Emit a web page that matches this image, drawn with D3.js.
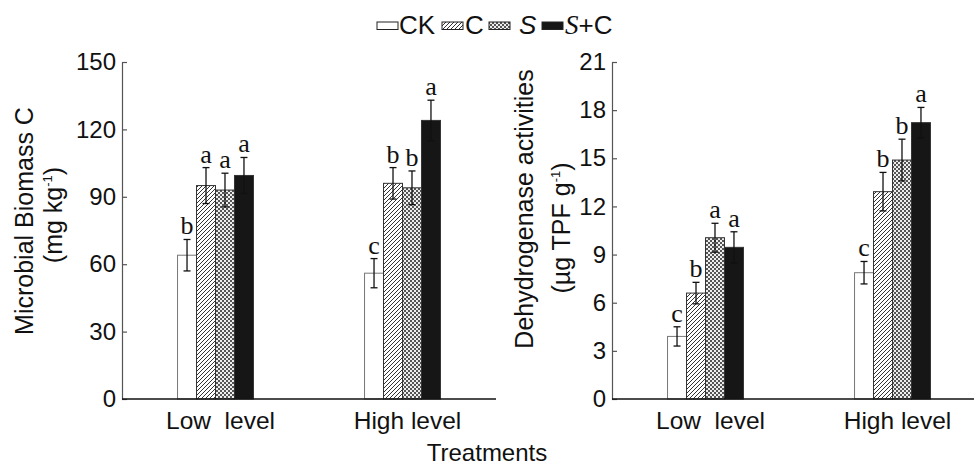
<!DOCTYPE html>
<html>
<head>
<meta charset="utf-8">
<script src="https://cdn.jsdelivr.net/npm/d3@7"></script>
<style>
  body { margin: 0; background: #fff; }
  svg { display: block; }
</style>
</head>
<body>
<svg id="chart" width="974" height="465"></svg>
<script>
const groups = ["Low  level", "High level"];
const series = ["CK", "C", "S", "S+C"];

// microbial biomass C (mg kg-1)
const mbcLow = [64, 95, 93, 99.5];
const mbcHigh = [56, 96, 94, 124];
const mbcErrLow = [7, 8, 7.5, 8];
const mbcErrHigh = [6.5, 7, 7.5, 9];
const mbcLetLow = ["b", "a", "a", "a"];
const mbcLetHigh = ["c", "b", "b", "a"];
const mbcTicks = [0, 30, 60, 90, 120, 150];

// dehydrogenase activities (ug TPF g-1)
const dhaLow = [3.9, 6.6, 10.05, 9.45];
const dhaHigh = [7.87, 12.92, 14.89, 17.22];
const dhaErrLow = [0.6, 0.67, 0.9, 0.97];
const dhaErrHigh = [0.7, 1.2, 1.3, 0.95];
const dhaLetLow = ["c", "b", "a", "a"];
const dhaLetHigh = ["c", "b", "b", "a"];
const dhaTicks = [0, 3, 6, 9, 12, 15, 18, 21];

const sans = "'Liberation Sans', Arial, sans-serif";
const serif = "'Liberation Serif', 'Times New Roman', serif";

const svg = d3.select("#chart");
const defs = svg.append("defs");

// diagonal hatch for C
const hatch = defs.append("pattern")
  .attr("id", "hatch")
  .attr("patternUnits", "userSpaceOnUse")
  .attr("width", 4).attr("height", 4);
hatch.append("rect").attr("width", 4).attr("height", 4).attr("fill", "#fff");
hatch.append("path")
  .attr("d", "M-1,1 l2,-2 M0,4 l4,-4 M3,5 l2,-2")
  .attr("stroke", "#333").attr("stroke-width", 1);

// fine checker for S
const check = defs.append("pattern")
  .attr("id", "check")
  .attr("patternUnits", "userSpaceOnUse")
  .attr("width", 4).attr("height", 4);
check.append("rect").attr("width", 4).attr("height", 4).attr("fill", "#555");
check.append("rect").attr("width", 2).attr("height", 2).attr("fill", "#eee");
check.append("rect").attr("x", 2).attr("y", 2).attr("width", 2).attr("height", 2).attr("fill", "#eee");

const fills = d3.scaleOrdinal()
  .domain(series)
  .range(["#fff", "url(#hatch)", "url(#check)", "#161616"]);

const yTop = 62, yBot = 399;

function panel(cfg) {
  const g = svg.append("g");

  const y = d3.scaleLinear().domain([0, cfg.max]).range([yBot, yTop]);
  const xg = d3.scaleBand()
    .domain(groups)
    .range([cfg.left, cfg.left + 374])
    .paddingInner(0.594)
    .paddingOuter(0.297);
  const xs = d3.scaleBand().domain(series).range([0, xg.bandwidth()]);

  const rows = [];
  groups.forEach((grp, gi) => {
    series.forEach((s, si) => {
      rows.push({
        grp, s,
        v: cfg.values[gi][si],
        e: cfg.errs[gi][si],
        l: cfg.letters[gi][si]
      });
    });
  });

  // bars
  g.selectAll("rect.bar")
    .data(rows)
    .join("rect")
    .attr("class", "bar")
    .attr("x", d => xg(d.grp) + xs(d.s))
    .attr("y", d => y(d.v))
    .attr("width", xs.bandwidth())
    .attr("height", d => y(0) - y(d.v))
    .attr("fill", d => fills(d.s))
    .attr("stroke", d => d.s === "CK" ? "#777" : "#333")
    .attr("stroke-width", 1);

  // error bars
  const cx = d => xg(d.grp) + xs(d.s) + xs.bandwidth() / 2;
  const eb = g.selectAll("g.err").data(rows).join("g").attr("class", "err")
    .attr("stroke", "#111").attr("stroke-width", 1.3);
  eb.append("line")
    .attr("x1", cx).attr("x2", cx)
    .attr("y1", d => y(d.v - d.e)).attr("y2", d => y(d.v + d.e));
  eb.append("line")
    .attr("x1", d => cx(d) - 3.5).attr("x2", d => cx(d) + 3.5)
    .attr("y1", d => y(d.v + d.e)).attr("y2", d => y(d.v + d.e));
  eb.append("line")
    .attr("x1", d => cx(d) - 3.5).attr("x2", d => cx(d) + 3.5)
    .attr("y1", d => y(d.v - d.e)).attr("y2", d => y(d.v - d.e));

  // significance letters
  g.selectAll("text.let")
    .data(rows)
    .join("text")
    .attr("class", "let")
    .attr("x", cx)
    .attr("y", d => y(d.v + d.e) - 5)
    .attr("text-anchor", "middle")
    .attr("font-family", serif)
    .attr("font-size", 26)
    .attr("fill", "#111")
    .text(d => d.l);

  // y axis, ticks inward
  const ax = g.append("g")
    .attr("transform", `translate(${cfg.left},0)`)
    .call(d3.axisLeft(y).tickValues(cfg.ticks).tickSizeInner(-5).tickSizeOuter(0).tickPadding(6));
  ax.select(".domain").attr("stroke", "#555").attr("stroke-width", 1.2);
  ax.selectAll(".tick line").attr("stroke", "#555").attr("stroke-width", 1.2);
  ax.selectAll(".tick text")
    .attr("font-family", sans)
    .attr("font-size", 24)
    .attr("fill", "#111");

  // x axis line
  g.append("line")
    .attr("x1", cfg.left).attr("x2", cfg.right)
    .attr("y1", yBot).attr("y2", yBot)
    .attr("stroke", "#111").attr("stroke-width", 1.3);

  g.selectAll("text.grp")
    .data(groups)
    .join("text")
    .attr("class", "grp")
    .attr("x", d => xg(d) + xg.bandwidth() / 2 + 5)
    .attr("y", 429)
    .attr("text-anchor", "middle")
    .attr("font-family", sans)
    .attr("font-size", 24.5)
    .attr("fill", "#111")
    .style("white-space", "pre")
    .text(d => d);

  // axis title, two lines
  cfg.title.forEach(t => {
    const txt = g.append("text")
      .attr("transform", `translate(${t.x},${t.y}) rotate(-90)`)
      .attr("text-anchor", "middle")
      .attr("font-family", sans)
      .attr("font-size", 25)
      .attr("fill", "#111")
      .text(t.main);
    if (t.sup) {
      txt.append("tspan").attr("font-size", 13).attr("dy", -10).text(t.sup);
      txt.append("tspan").attr("dy", 10).text(t.tail);
    }
  });
}

panel({
  left: 122, right: 496, max: 150, ticks: mbcTicks,
  values: [mbcLow, mbcHigh], errs: [mbcErrLow, mbcErrHigh], letters: [mbcLetLow, mbcLetHigh],
  title: [
    { x: 33, y: 221, main: "Microbial Biomass C" },
    { x: 62, y: 215, main: "(mg kg", sup: "-1", tail: ")" }
  ]
});

panel({
  left: 612, right: 974, max: 21, ticks: dhaTicks,
  values: [dhaLow, dhaHigh], errs: [dhaErrLow, dhaErrHigh], letters: [dhaLetLow, dhaLetHigh],
  title: [
    { x: 533, y: 209, main: "Dehydrogenase activities" },
    { x: 570, y: 228, main: "(\u00b5g TPF g", sup: "-1", tail: ")" }
  ]
});

svg.append("text")
  .attr("x", 487).attr("y", 461)
  .attr("text-anchor", "middle")
  .attr("font-family", sans)
  .attr("font-size", 24)
  .attr("fill", "#111")
  .text("Treatments");

// legend: swatch and label positions in the strip above the panels
const legItems = [
  { s: "CK", rx: 377, tx: 399, parts: [{ t: "CK" }] },
  { s: "C", rx: 442, tx: 465, parts: [{ t: "C" }] },
  { s: "S", rx: 489, tx: 519, parts: [{ t: "S", italic: true }] },
  { s: "S+C", rx: 542, tx: 565, parts: [{ t: "S", italic: true, serif: true }, { t: "+C" }] }
];
const leg = svg.append("g");
legItems.forEach(it => {
  leg.append("rect")
    .attr("x", it.rx).attr("y", 22).attr("width", 21).attr("height", 7.5)
    .attr("fill", fills(it.s)).attr("stroke", "#222").attr("stroke-width", 1);
  const txt = leg.append("text")
    .attr("x", it.tx).attr("y", 34)
    .attr("font-family", sans)
    .attr("font-size", 26)
    .attr("fill", "#111");
  it.parts.forEach(p => {
    txt.append("tspan")
      .attr("font-style", p.italic ? "italic" : null)
      .attr("font-family", p.serif ? serif : null)
      .attr("font-size", p.serif ? 27 : null)
      .text(p.t);
  });
});
</script>
</body>
</html>
